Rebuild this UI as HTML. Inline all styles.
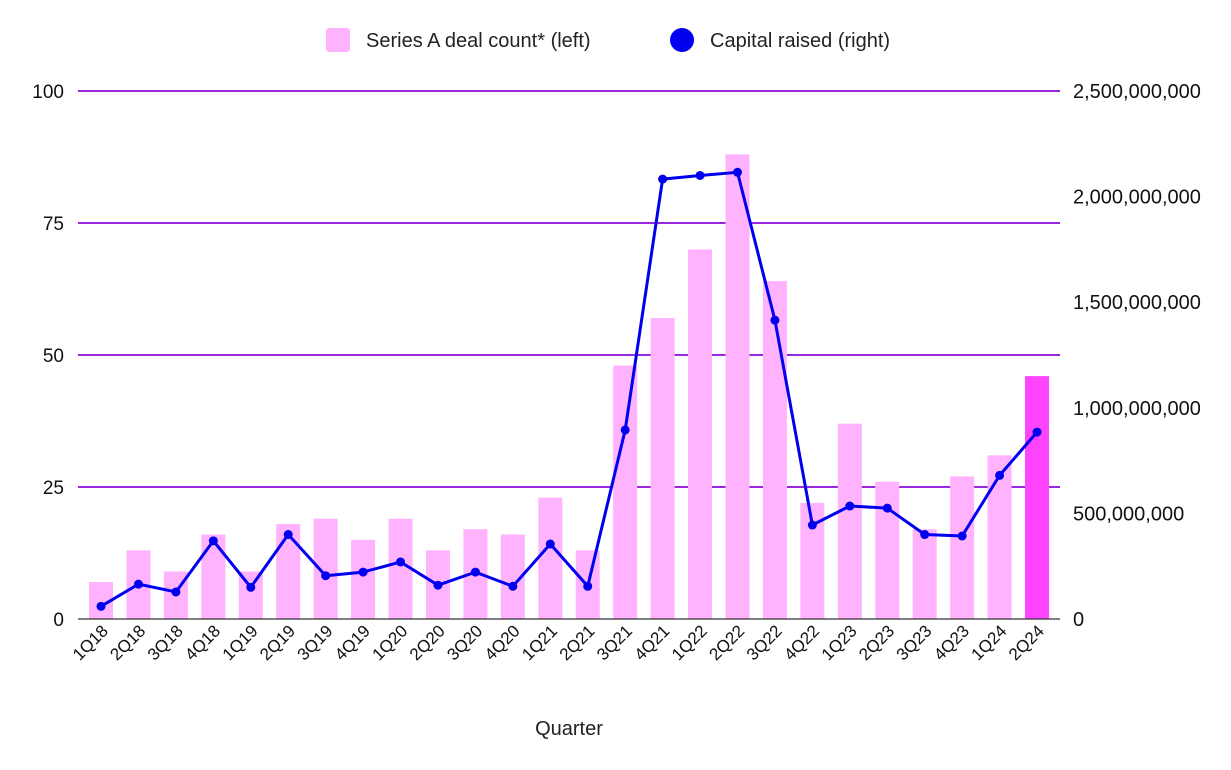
<!DOCTYPE html>
<html><head><meta charset="utf-8"><style>
body{margin:0;background:#fff;font-family:"Liberation Sans",Arial,sans-serif;}
svg{display:block}
</style></head><body>
<svg id="c" width="1231" height="770">
<g id="legend">
 <rect x="326" y="28" width="24" height="24" rx="3" fill="#ffb3ff"/>
 <text x="366" y="47" font-size="20" fill="#222">Series A deal count* (left)</text>
 <circle cx="682" cy="40" r="12" fill="#0000ee"/>
 <text x="710" y="47" font-size="20" fill="#222">Capital raised (right)</text>
</g>
<g id="grid"></g><g id="bars"></g><g id="line"></g><g id="axes"></g>
<text x="569" y="735" text-anchor="middle" font-size="20" fill="#222">Quarter</text>
</svg>
<script>
const categories=["1Q18","2Q18","3Q18","4Q18","1Q19","2Q19","3Q19","4Q19","1Q20","2Q20","3Q20","4Q20","1Q21","2Q21","3Q21","4Q21","1Q22","2Q22","3Q22","4Q22","1Q23","2Q23","3Q23","4Q23","1Q24","2Q24"];
const dealCount=[7,13,9,16,9,18,19,15,19,13,17,16,23,13,48,57,70,88,64,22,37,26,17,27,31,46];
const capitalRaised=[60e6,165e6,128e6,370e6,150e6,400e6,205e6,222e6,270e6,160e6,222e6,155e6,355e6,155e6,895e6,2083e6,2100e6,2115e6,1415e6,445e6,535e6,525e6,400e6,393e6,680e6,885e6];
const leftTicks=[0,25,50,75,100];
const rightTicks=["0","500,000,000","1,000,000,000","1,500,000,000","2,000,000,000","2,500,000,000"];
const rightTickValues=[0,5e8,1e9,1.5e9,2e9,2.5e9];
const NS="http://www.w3.org/2000/svg";
const X0=82.3,STEP=37.44,Y0=619,Y1=91;
const xc=i=>X0+STEP*(i+0.5);
const yL=v=>Y0-(v/100)*(Y0-Y1);
const yR=v=>Y0-(v/2.5e9)*(Y0-Y1);
function mk(parent,tag,attrs,text){const e=document.createElementNS(NS,tag);for(const k in attrs)e.setAttribute(k,attrs[k]);if(text!=null)e.textContent=text;document.getElementById(parent).appendChild(e);return e;}
leftTicks.forEach(t=>{
 if(t>0){const g=mk("grid","line",{x1:78,x2:1060,y1:yL(t),y2:yL(t),stroke:"#8a0ad8","stroke-width":1.8});
 
 }
 const l=mk("axes","text",{x:64,y:yL(t)+7,"text-anchor":"end","font-size":19,fill:"#111"},t);
 
 
});
rightTickValues.forEach((v,i)=>{
 const l=mk("axes","text",{x:1073,y:yR(v)+7,"font-size":20,fill:"#111"},rightTicks[i]);
 
 
});
const ax=mk("axes","line",{x1:78,x2:1060,y1:Y0,y2:Y0,stroke:"#333","stroke-width":1.2});


categories.forEach((c,i)=>{
 const b=mk("bars","rect",{x:xc(i)-12,y:yL(dealCount[i]),width:24,height:Y0-yL(dealCount[i]),fill:i===categories.length-1?"#ff44ff":"#ffb3ff"});
 
 
 const t=mk("axes","text",{x:xc(i)+8,y:632,"text-anchor":"end","font-size":17,fill:"#111",transform:`rotate(-45 ${xc(i)+8} 632)`},c);
 
 
});
const pts=capitalRaised.map((v,i)=>xc(i)+","+yR(v)).join(" ");
const pl=mk("line","polyline",{points:pts,fill:"none",stroke:"#0000ee","stroke-width":3,"stroke-linejoin":"round"});


capitalRaised.forEach((v,i)=>{
 const p=mk("line","circle",{cx:xc(i),cy:yR(v),r:4.5,fill:"#0000ee"});
 
 
});
</script>
</body></html>
